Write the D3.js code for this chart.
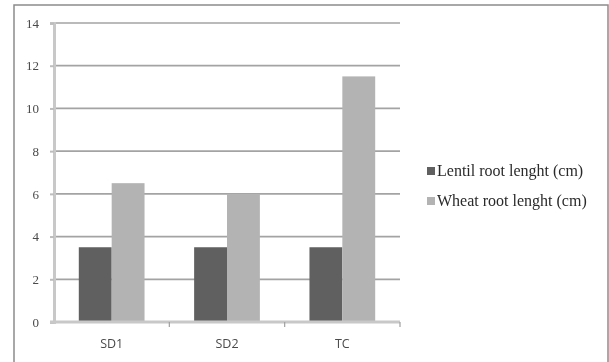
<!DOCTYPE html>
<html>
<head>
<meta charset="utf-8">
<script src="https://cdn.jsdelivr.net/npm/d3@7"></script>
<style>
  html, body { margin: 0; padding: 0; background: #fff; }
  svg { display: block; filter: blur(0.5px); }
</style>
</head>
<body>
<svg id="chart" width="609" height="362"></svg>
<script>
// Root length per treatment
const categories = ["SD1", "SD2", "TC"];
const seriesNames = ["Lentil root lenght (cm)", "Wheat root lenght (cm)"];
const lentilValues = [3.5, 3.5, 3.5];
const wheatValues = [6.5, 6, 11.5];
const yTicks = [0, 2, 4, 6, 8, 10, 12, 14];
const seriesColors = ["#606060", "#b3b3b3"];

const svg = d3.select("#chart");

// Outer chart frame
svg.append("rect")
  .attr("x", 14).attr("y", 5)
  .attr("width", 594).attr("height", 370)
  .attr("fill", "#fff")
  .attr("stroke", "#8c8c8c").attr("stroke-width", 1.5);

const plot = { left: 54, right: 400, top: 23, bottom: 322 };

const x = d3.scaleBand()
  .domain(categories)
  .range([plot.left, plot.right])
  .paddingInner(0.43).paddingOuter(0.215);

const y = d3.scaleLinear().domain([0, 14]).range([plot.bottom, plot.top]);

const xSub = d3.scaleBand().domain([0, 1]).range([0, x.bandwidth()]);

// Horizontal gridlines
svg.append("g")
  .selectAll("line")
  .data(yTicks.filter(t => t > 0))
  .join("line")
  .attr("x1", plot.left).attr("x2", plot.right)
  .attr("y1", d => y(d)).attr("y2", d => y(d))
  .attr("stroke", "#a3a3a3").attr("stroke-width", 1.7);

// Bars
const rows = categories.map((c, i) => ({ cat: c, vals: [lentilValues[i], wheatValues[i]] }));
svg.append("g")
  .selectAll("g")
  .data(rows)
  .join("g")
  .attr("transform", d => `translate(${x(d.cat)},0)`)
  .selectAll("rect")
  .data(d => d.vals.map((v, k) => ({ v, k })))
  .join("rect")
  .attr("x", d => xSub(d.k))
  .attr("width", xSub.bandwidth())
  .attr("y", d => y(d.v))
  .attr("height", d => y(0) - y(d.v))
  .attr("fill", d => seriesColors[d.k]);

// Y axis
const yAxis = d3.axisLeft(y).tickValues(yTicks).tickSize(4).tickPadding(11);
const gy = svg.append("g").attr("transform", `translate(${plot.left},0)`).call(yAxis);
gy.select(".domain").attr("stroke", "#c8c8c8").attr("stroke-width", 3);
gy.selectAll(".tick line").attr("stroke", "#bdbdbd").attr("stroke-width", 2);
gy.selectAll(".tick text")
  .attr("font-family", "Liberation Serif, serif")
  .attr("font-size", 13).attr("fill", "#4a4a4a");

// X axis with boundary ticks between categories
const gx = svg.append("g").attr("transform", `translate(0,${plot.bottom})`);
gx.append("line")
  .attr("x1", plot.left - 4).attr("x2", plot.right)
  .attr("stroke", "#c8c8c8").attr("stroke-width", 3);
const step = (plot.right - plot.left) / categories.length;
gx.selectAll("line.sep")
  .data(d3.range(1, categories.length + 1))
  .join("line").attr("class", "sep")
  .attr("x1", i => plot.left + i * step).attr("x2", i => plot.left + i * step)
  .attr("y1", 0).attr("y2", 5)
  .attr("stroke", "#a0a0a0").attr("stroke-width", 1.2);
gx.selectAll("text")
  .data(categories)
  .join("text")
  .attr("x", d => x(d) + x.bandwidth() / 2)
  .attr("y", 26)
  .attr("text-anchor", "middle")
  .attr("font-family", "Open Sans, sans-serif")
  .attr("font-size", 12.5).attr("fill", "#4a4a4a")
  .text(d => d);

// Legend
const legend = svg.append("g").attr("transform", "translate(427,171)");
const items = legend.selectAll("g")
  .data(seriesNames)
  .join("g")
  .attr("transform", (d, i) => `translate(0,${i * 30})`);
items.append("rect")
  .attr("x", 0).attr("y", -4).attr("width", 8).attr("height", 8)
  .attr("fill", (d, i) => seriesColors[i]);
items.append("text")
  .attr("x", 10).attr("y", 5)
  .attr("font-family", "Liberation Serif, serif")
  .attr("font-size", 16).attr("fill", "#2a2a2a")
  .text(d => d);
</script>
</body>
</html>
